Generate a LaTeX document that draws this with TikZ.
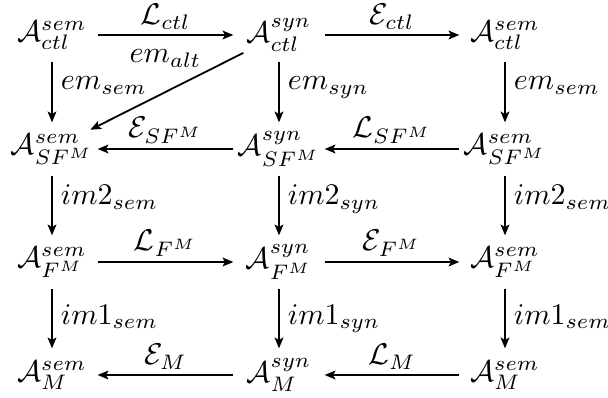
\documentclass[tikz,border=0pt]{standalone}
\usetikzlibrary{arrows.meta}
\begin{document}
\begin{tikzpicture}[x=0.33333pt,y=-0.33333pt,
  obj/.style={minimum width=30pt, minimum height=17.33pt, inner sep=0pt},
  arr/.style={-{Stealth[length=3.6pt,width=2.9pt,inset=0.8pt]}, line width=0.8pt},
  darr/.style={-{Stealth[length=3.6pt,width=2.9pt,inset=0.8pt]}, line width=0.6pt},
  vl/.style={midway, anchor=base west, inner sep=0pt, xshift=2.6pt},
  hl/.style={midway, anchor=south, inner sep=0pt, yshift=1.6pt}]
\useasboundingbox (0,0) rectangle (608,398);
% row 1
\node[obj] (a1) at (52,35)  {$\mathcal{A}^{sem}_{ctl}$};
\node[obj] (b1) at (279,35) {$\mathcal{A}^{syn}_{ctl}$};
\node[obj] (c1) at (505,35) {$\mathcal{A}^{sem}_{ctl}$};
% row 2
\node[obj] (a2) at (52,149)  {$\mathcal{A}^{sem}_{SF^M}$};
\node[obj] (b2) at (279,149) {$\mathcal{A}^{syn}_{SF^M}$};
\node[obj] (c2) at (505,149) {$\mathcal{A}^{sem}_{SF^M}$};
% row 3
\node[obj] (a3) at (52,262)  {$\mathcal{A}^{sem}_{F^M}$};
\node[obj] (b3) at (279,262) {$\mathcal{A}^{syn}_{F^M}$};
\node[obj] (c3) at (505,262) {$\mathcal{A}^{sem}_{F^M}$};
% row 4
\node[obj] (a4) at (52,375)  {$\mathcal{A}^{sem}_{M}$};
\node[obj] (b4) at (279,375) {$\mathcal{A}^{syn}_{M}$};
\node[obj] (c4) at (505,375) {$\mathcal{A}^{sem}_{M}$};
% horizontal
\draw[arr] (a1) -- (b1) node[hl] (l1) {$\mathcal{L}_{ctl}$};
\draw[arr] (b1) -- (c1) node[hl] (l2) {$\mathcal{E}_{ctl}$};
\draw[arr] (b2) -- (a2) node[hl] (l3) {$\mathcal{E}_{SF^M}$};
\draw[arr] (c2) -- (b2) node[hl] (l4) {$\mathcal{L}_{SF^M}$};
\draw[arr] (a3) -- (b3) node[hl] (l5) {$\mathcal{L}_{F^M}$};
\draw[arr] (b3) -- (c3) node[hl] (l6) {$\mathcal{E}_{F^M}$};
\draw[arr] (b4) -- (a4) node[hl] (l7) {$\mathcal{E}_{M}$};
\draw[arr] (c4) -- (b4) node[hl] (l8) {$\mathcal{L}_{M}$};
% vertical
\draw[arr] (a1) -- (a2) node[vl, yshift=0.8pt] (v1) {$em_{sem}$};
\draw[arr] (b1) -- (b2) node[vl, yshift=0.8pt] (v2) {$em_{syn}$};
\draw[arr] (c1) -- (c2) node[vl, yshift=0.8pt] (v3) {$em_{sem}$};
\draw[arr] (a2) -- (a3) node[vl, yshift=0.2pt] (v4) {$im2_{sem}$};
\draw[arr] (b2) -- (b3) node[vl, yshift=0.2pt] (v5) {$im2_{syn}$};
\draw[arr] (c2) -- (c3) node[vl, yshift=0.2pt] (v6) {$im2_{sem}$};
\draw[arr] (a3) -- (a4) node[vl, yshift=-2pt] (v7) {$im1_{sem}$};
\draw[arr] (b3) -- (b4) node[vl, yshift=-2pt] (v8) {$im1_{syn}$};
\draw[arr] (c3) -- (c4) node[vl, yshift=-2pt] (v9) {$im1_{sem}$};
% diagonal
\draw[darr, shorten <=13.3pt, shorten >=14.3pt] (b1.center) -- (a2.center)
  node[midway, anchor=base, yshift=9.7pt, inner sep=0pt] (d1) {$em_{alt}$};
\end{tikzpicture}
\end{document}
